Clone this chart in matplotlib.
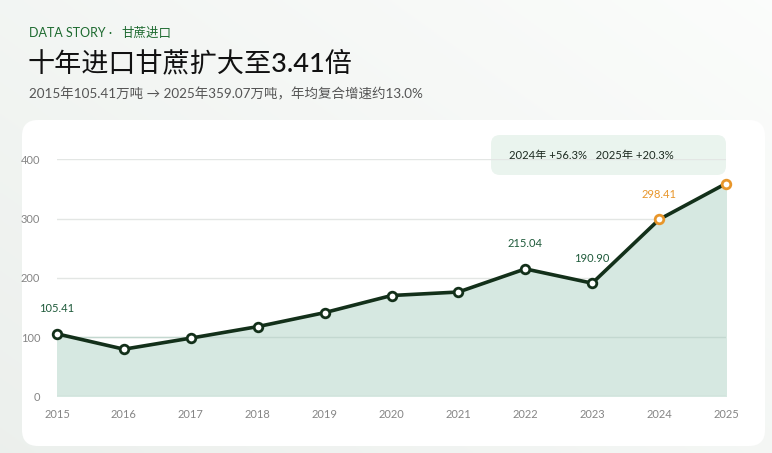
import matplotlib
matplotlib.use("Agg")
import matplotlib.pyplot as plt
import numpy as np
from matplotlib.patches import FancyBboxPatch

# data (万吨)
years = [2015, 2016, 2017, 2018, 2019, 2020, 2021, 2022, 2023, 2024, 2025]
imports = [105.41, 79.5, 98.2, 117.6, 141.2, 170.1, 176.0, 215.04, 190.90, 298.41, 359.07]
labelled = {2015: "105.41", 2022: "215.04", 2023: "190.90", 2024: "298.41"}
highlight_years = [2024, 2025]
y_ticks = [0, 100, 200, 300, 400]

title_top = "DATA STORY ·"
title_tag = "甘蔗进口"
title = "十年进口甘蔗扩大至3.41倍"
subtitle = "2015年105.41万吨 → 2025年359.07万吨，年均复合增速约13.0%"
callout = "2024年 +56.3%   2025年 +20.3%"

fonts = ["Lato", "Noto Sans CJK SC", "DejaVu Sans"]
plt.rcParams["font.family"] = fonts

W, H = 772, 453
fig = plt.figure(figsize=(W / 100, H / 100), dpi=100)

# background gradient
bg = fig.add_axes([0, 0, 1, 1])
grad = np.linspace(0, 1, 256)
gx, gy = np.meshgrid(grad, grad)
t = np.clip(0.55 * gx + 0.45 * (1 - gy), 0, 1)
c0 = np.array([0.925, 0.940, 0.928])
c1 = np.array([0.985, 0.990, 0.985])
img = c0[None, None, :] * (1 - t[..., None]) + c1[None, None, :] * t[..., None]
bg.imshow(img, extent=[0, W, 0, H], aspect="auto", origin="lower")
bg.set_xlim(0, W)
bg.set_ylim(H, 0)
bg.axis("off")

# white card
card = FancyBboxPatch((22, 120), 743, 326, boxstyle="round,pad=0,rounding_size=16",
                      facecolor="white", edgecolor="none")
bg.add_patch(card)

# callout box
box = FancyBboxPatch((491, 135), 235, 40, boxstyle="round,pad=0,rounding_size=9",
                     facecolor="#eaf4ee", edgecolor="none")
bg.add_patch(box)
bg.text(509, 155.5, callout, fontsize=8.1, color="#1d2a20", va="center", ha="left")

# headers
bg.text(29, 33, title_top, fontsize=9, color="#1e6b30", va="center", ha="left")
bg.text(121, 33, title_tag, fontsize=9, color="#1e6b30", va="center", ha="left")
bg.text(28, 63, title, fontsize=19.5, color="#111111", va="center", ha="left",
        fontweight="medium")
bg.text(29, 94, subtitle, fontsize=9.7, color="#555555", va="center", ha="left")

# chart axes
ax = fig.add_axes([57 / W, 1 - 396.3 / H, (726 - 57) / W, (396.3 - 159.3) / H])
ax.set_facecolor("none")
ax.set_xlim(2015, 2025)
ax.set_ylim(0, 400)

ax.fill_between(years, imports, 0, color="#d6e8e1", zorder=1)
for v in y_ticks:
    ax.axhline(v, color="#e3e6e4", lw=1, zorder=0)
    if v <= 100:
        ax.axhline(v, color="#c3d8d0", lw=1, zorder=1.5)

ax.plot(years, imports, color="#13301a", lw=2.6, zorder=3, solid_joinstyle="round",
        clip_on=False)
for yr, v in zip(years, imports):
    edge = "#e8962b" if yr in highlight_years else "#13301a"
    ax.plot(yr, v, "o", ms=6.2, mfc="white", mec=edge, mew=2, zorder=4, clip_on=False)

for yr, v in zip(years, imports):
    if yr in labelled:
        col = "#e8962b" if yr in highlight_years else "#1e5a3a"
        ax.annotate(labelled[yr], (yr, v), xytext=(0, 14), textcoords="offset points",
                    ha="center", va="bottom", fontsize=8, color=col)

ax.set_xticks(years)
ax.set_xticklabels([str(y) for y in years])
ax.set_yticks(y_ticks)
ax.tick_params(axis="both", length=0, labelsize=8, labelcolor="#858585")
ax.tick_params(axis="x", pad=9)
ax.tick_params(axis="y", pad=12)
for s in ax.spines.values():
    s.set_visible(False)

fig.savefig("out.png", dpi=100)
